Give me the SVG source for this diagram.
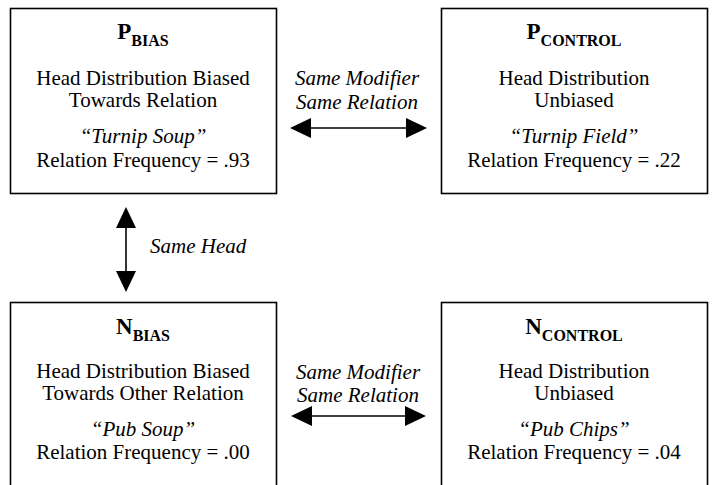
<svg xmlns="http://www.w3.org/2000/svg" width="713" height="485" viewBox="0 0 713 485">
  <style>
    .box { fill: #ffffff; stroke: #000000; stroke-width: 1.6; }
    .t { font-family: "Liberation Serif", "Times New Roman", serif; font-size: 21px; fill: #000000; text-anchor: middle; }
    .it { font-style: italic; }
    .h { font-family: "Liberation Serif", "Times New Roman", serif; font-size: 23px; font-weight: bold; fill: #000000; text-anchor: middle; }
    .sub { font-size: 16px; }
    .conn { stroke: #000000; stroke-width: 1.6; fill: none; marker-start: url(#head); marker-end: url(#head); }
  </style>
  <defs>
    <marker id="head" markerUnits="userSpaceOnUse" viewBox="0 0 21 20" markerWidth="21" markerHeight="20" refX="0" refY="10" orient="auto-start-reverse">
      <path d="M0,0 L21,10 L0,20 Z" fill="#000000"/>
    </marker>
  </defs>

  <g id="connectors">
    <line class="conn" x1="311" y1="128" x2="406" y2="128"/>
    <line class="conn" x1="312" y1="416" x2="405" y2="416"/>
    <line class="conn" x1="126" y1="228" x2="126" y2="271"/>
    <text class="t it" x="357" y="85">Same Modifier</text>
    <text class="t it" x="357" y="109">Same Relation</text>
    <text class="t it" x="358" y="379">Same Modifier</text>
    <text class="t it" x="358" y="402">Same Relation</text>
    <text class="t it" x="150" y="253" style="text-anchor:start">Same Head</text>
  </g>

  <g id="p-bias">
    <rect class="box" x="10.5" y="8.5" width="266" height="185"/>
    <text class="h" x="143" y="39">P<tspan class="sub" dy="7">BIAS</tspan></text>
    <text class="t" x="143" y="85">Head Distribution Biased</text>
    <text class="t" x="143" y="107">Towards Relation</text>
    <text class="t it" x="143" y="143">“Turnip Soup”</text>
    <text class="t" x="143" y="167">Relation Frequency = .93</text>
  </g>

  <g id="p-control">
    <rect class="box" x="441.5" y="8.5" width="266" height="185"/>
    <text class="h" x="574" y="39">P<tspan class="sub" dy="7">CONTROL</tspan></text>
    <text class="t" x="574" y="85">Head Distribution</text>
    <text class="t" x="574" y="107">Unbiased</text>
    <text class="t it" x="574" y="143">“Turnip Field”</text>
    <text class="t" x="574" y="167">Relation Frequency = .22</text>
  </g>

  <g id="n-bias">
    <rect class="box" x="10.5" y="302.5" width="266" height="185"/>
    <text class="h" x="143" y="334">N<tspan class="sub" dy="7">BIAS</tspan></text>
    <text class="t" x="143" y="378">Head Distribution Biased</text>
    <text class="t" x="143" y="400">Towards Other Relation</text>
    <text class="t it" x="143" y="436">“Pub Soup”</text>
    <text class="t" x="143" y="459">Relation Frequency = .00</text>
  </g>

  <g id="n-control">
    <rect class="box" x="441.5" y="302.5" width="266" height="185"/>
    <text class="h" x="574" y="334">N<tspan class="sub" dy="7">CONTROL</tspan></text>
    <text class="t" x="574" y="378">Head Distribution</text>
    <text class="t" x="574" y="400">Unbiased</text>
    <text class="t it" x="574" y="436">“Pub Chips”</text>
    <text class="t" x="574" y="459">Relation Frequency = .04</text>
  </g>
</svg>
